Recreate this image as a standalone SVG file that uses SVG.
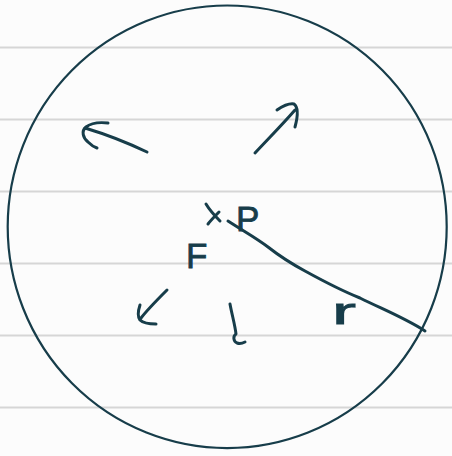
<svg xmlns="http://www.w3.org/2000/svg" width="452" height="456" viewBox="0 0 452 456">
<style>
.rule{stroke:#d6d6d6;stroke-width:2.2;fill:none}
.ink{stroke:#173d4a;stroke-width:3;fill:none;stroke-linecap:round;stroke-linejoin:round}
.outline{stroke:#173d4a;stroke-width:2.2;fill:none}
.lbl{font-family:"Liberation Sans","DejaVu Sans",sans-serif;fill:#173d4a;stroke:#173d4a;stroke-width:0.8}
</style>
<rect x="0" y="0" width="452" height="456" fill="#fcfcfc"/>
<g id="paper-lines">
<line class="rule" x1="0" y1="47.5" x2="452" y2="47.5"/>
<line class="rule" x1="0" y1="119.5" x2="452" y2="119.5"/>
<line class="rule" x1="0" y1="191.5" x2="452" y2="191.5"/>
<line class="rule" x1="0" y1="263.5" x2="452" y2="263.5"/>
<line class="rule" x1="0" y1="335.5" x2="452" y2="335.5"/>
<line class="rule" x1="0" y1="407.5" x2="452" y2="407.5"/>
</g>
<g id="circle">
<ellipse class="outline" cx="227.2" cy="226.8" rx="219.5" ry="221.3"/>
</g>
<g id="center">
<path class="ink" d="M206,204 C209,209 214,215 220,221 M219,212 C215,216 211,220 208,224"/>
</g>
<g id="connectors">
<path id="arrow-ul" class="ink" d="M147,152 C126,142 105,134 85,128 M108,123 C99,122 91,123 86,127 C81,131 83,138 88,142 C91,145 94,147 97,148"/>
<path id="arrow-ur" class="ink" d="M255,153 C268,139 282,125 295,110 M277,110 C283,106 289,103 294,104 C298,107 298,116 295,127"/>
<path id="arrow-ll" class="ink" d="M167,290 C158,299 148,309 141,318 M140,305 C138,311 137,316 140,320 C143,323 149,324 156,324"/>
<path id="arrow-down" class="ink" d="M230,304 C232,315 235,325 236,334 C233,336 233,341 237,343 C240,344 243,343 245,342"/>
<path id="radius" class="ink" d="M228,221 C245,232 256,238 268,247 C282,258 292,264 305,271 C325,282 345,292 360,298 C382,309 405,318 425,331"/>
</g>
<g id="label-P"><text class="lbl" x="236" y="231" font-size="35">P</text></g>
<g id="label-F"><text class="lbl" x="186" y="268" font-size="35">F</text></g>
<g id="label-r"><text class="lbl" x="332" y="324" font-size="36" stroke-width="0.3" textLength="24" lengthAdjust="spacingAndGlyphs">r</text></g>
</svg>
